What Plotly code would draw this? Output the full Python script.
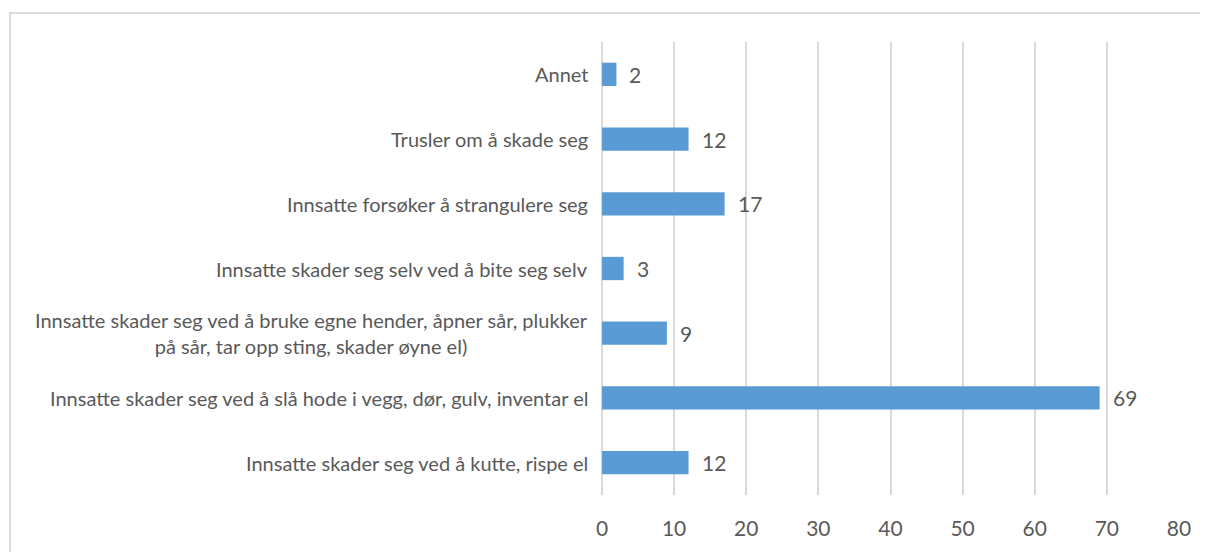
import plotly.graph_objects as go

categories = [
    "Innsatte skader seg ved å kutte, rispe el",
    "Innsatte skader seg ved å slå hode i vegg, dør, gulv, inventar el",
    "Innsatte skader seg ved å bruke egne hender, åpner sår, plukker<br>på sår, tar opp sting, skader øyne el)",
    "Innsatte skader seg selv ved å bite seg selv",
    "Innsatte forsøker å strangulere seg",
    "Trusler om å skade seg",
    "Annet",
]
values = [12, 69, 9, 3, 17, 12, 2]
x_ticks = [0, 10, 20, 30, 40, 50, 60, 70, 80]

FONT = "Lato, Calibri, Carlito, sans-serif"
TXT = "#595959"
GRID = "#D9D9D9"

fig = go.Figure()
fig.add_trace(go.Bar(
    x=values, y=list(range(len(categories))), orientation="h",
    marker=dict(color="#5B9BD5", line=dict(width=0)),
    width=0.36, hoverinfo="skip",
))

annotations = []
for i, (c, v) in enumerate(zip(categories, values)):
    annotations.append(dict(
        x=0, y=i, xref="x", yref="y", text=c, showarrow=False,
        xanchor="right", yanchor="middle", align="center", xshift=-12,
        font=dict(family=FONT, size=20, color=TXT),
    ))
    annotations.append(dict(
        x=v, y=i, xref="x", yref="y", text=str(v), showarrow=False,
        xanchor="left", yanchor="middle", xshift=11,
        font=dict(family=FONT, size=21, color=TXT),
    ))

# page body has an 8px margin; figure coordinates compensate for it
W, H = 1200, 544
L, T = 594, 34
R = W - (1179 - 8)
B = H - (495 - 8)
pw, ph = W - L - R, H - T - B

fig.update_layout(
    width=W, height=H,
    margin=dict(l=L, r=R, t=T, b=B, pad=0),
    paper_bgcolor="white", plot_bgcolor="white",
    showlegend=False,
    annotations=annotations,
    xaxis=dict(
        range=[0, 80], tickvals=x_ticks, showgrid=True, gridcolor=GRID, gridwidth=1.5,
        zeroline=True, zerolinecolor=GRID, zerolinewidth=1.5,
        showline=False, ticks="", ticklabelstandoff=19,
        tickfont=dict(family=FONT, size=21, color=TXT), fixedrange=True,
    ),
    yaxis=dict(
        range=[-0.5, len(categories) - 0.5], showticklabels=False, showgrid=False,
        zeroline=False, showline=False, ticks="", fixedrange=True,
    ),
    shapes=[dict(
        type="rect", xref="paper", yref="paper",
        x0=(2 - L) / pw, x1=(W + 20 - L) / pw,
        y0=-(B + 20) / ph, y1=(H - B - 5) / ph,
        line=dict(color=GRID, width=2), fillcolor="rgba(0,0,0,0)", layer="below",
    )],
)

fig.write_html("out.html")
